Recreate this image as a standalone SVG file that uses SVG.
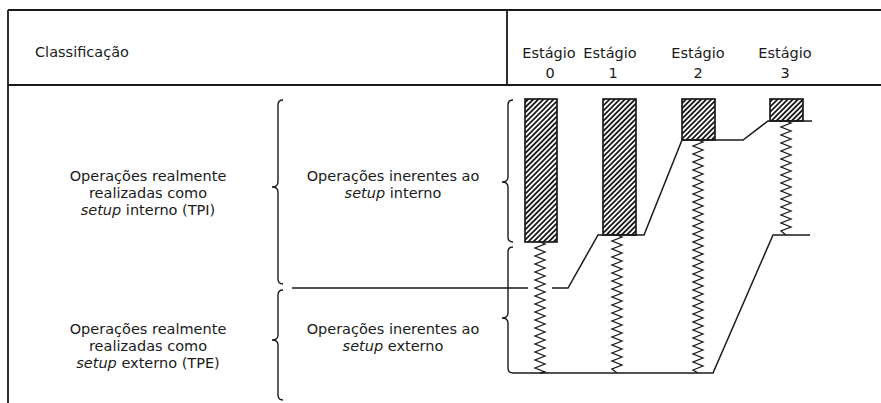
<svg xmlns="http://www.w3.org/2000/svg" width="881" height="403" viewBox="0 0 881 403">
<style>
text{font-family:"DejaVu Sans","Open Sans",sans-serif;font-size:14.5px;fill:#1a1a1a}
.c{text-anchor:middle}
.i{font-style:italic}
.ln{fill:none;stroke:#1a1a1a;stroke-width:1.5}
.fr{fill:none;stroke:#1a1a1a;stroke-width:1.8}
.br{fill:none;stroke:#1a1a1a;stroke-width:1.4}
.zz{fill:none;stroke:#1a1a1a;stroke-width:1.3;stroke-linejoin:miter}
.bar{fill:url(#hatch);stroke:#1a1a1a;stroke-width:1.7}
</style>
<defs>
<pattern id="hatch" patternUnits="userSpaceOnUse" width="3.6" height="3.6" patternTransform="rotate(45)">
<rect width="3.6" height="3.6" fill="#fff"/>
<rect width="1.8" height="3.6" fill="#1a1a1a"/>
</pattern>
</defs>
<rect width="881" height="403" fill="#fff"/>

<g id="frame">
<path class="fr" d="M8,10 H881 M8,10 V403 M8,85 H881 M507,10 V85"/>
</g>

<g id="header">
<text x="35" y="57">Classificação</text>
<text class="c" x="549" y="58">Estágio</text><text class="c" x="550" y="78">0</text>
<text class="c" x="610" y="58">Estágio</text><text class="c" x="613" y="78">1</text>
<text class="c" x="698" y="58">Estágio</text><text class="c" x="698" y="78">2</text>
<text class="c" x="785" y="58">Estágio</text><text class="c" x="785" y="78">3</text>
</g>

<g id="tpi">
<text class="c" x="148" y="181">Operações realmente</text>
<text class="c" x="148" y="198">realizadas como</text>
<text class="c" x="148" y="215"><tspan class="i">setup</tspan> interno (TPI)</text>
</g>
<g id="tpe">
<text class="c" x="148" y="334">Operações realmente</text>
<text class="c" x="148" y="351">realizadas como</text>
<text class="c" x="148" y="368"><tspan class="i">setup</tspan> externo (TPE)</text>
</g>
<g id="inerente-interno">
<text class="c" x="393" y="181">Operações inerentes ao</text>
<text class="c" x="393" y="198"><tspan class="i">setup</tspan> interno</text>
</g>
<g id="inerente-externo">
<text class="c" x="393" y="334">Operações inerentes ao</text>
<text class="c" x="393" y="351"><tspan class="i">setup</tspan> externo</text>
</g>

<g id="braces">
<path class="br" d="M283,100 Q278,100 278,105 L278,182 Q278,187 272,187 Q278,187 278,192 L278,279 Q278,284 283,284"/>
<path class="br" d="M283,290 Q278,290 278,295 L278,335 Q278,340 272,340 Q278,340 278,345 L278,395 Q278,400 283,400"/>
<path class="br" d="M513,100 Q508,100 508,105 L508,177 Q508,182 502,182 Q508,182 508,187 L508,237 Q508,242 513,242"/>
<path class="br" d="M513,247 Q508,247 508,252 L508,313 Q508,318 502,318 Q508,318 508,323 L508,368 Q508,373 513,373"/>
</g>

<g id="stage0">
<rect class="bar" x="525" y="99" width="32" height="143"/>
<path class="zz" d="M540,242 l5,2 -10,4 10,4 -10,4 10,4 -10,4 10,4 -10,4 10,4 -10,4 10,4 -10,4 10,4 -10,4 10,4 -10,4 10,4 -10,4 10,4 -10,4 10,4 -10,4 10,4 -10,4 10,4 -10,4 10,4 -10,4 10,4 -10,4 10,4 -10,4 10,4 l-5,1"/>
</g>
<g id="stage1">
<rect class="bar" x="603" y="99" width="33" height="136"/>
<path class="zz" d="M617,235 l5,2 -10,4 10,4 -10,4 10,4 -10,4 10,4 -10,4 10,4 -10,4 10,4 -10,4 10,4 -10,4 10,4 -10,4 10,4 -10,4 10,4 -10,4 10,4 -10,4 10,4 -10,4 10,4 -10,4 10,4 -10,4 10,4 -10,4 10,4 -10,4 10,4 -10,4 l5,4"/>
</g>
<g id="stage2">
<rect class="bar" x="682" y="99" width="33" height="41"/>
<path class="zz" d="M698,140 l5,2 -10,4 10,4 -10,4 10,4 -10,4 10,4 -10,4 10,4 -10,4 10,4 -10,4 10,4 -10,4 10,4 -10,4 10,4 -10,4 10,4 -10,4 10,4 -10,4 10,4 -10,4 10,4 -10,4 10,4 -10,4 10,4 -10,4 10,4 -10,4 10,4 -10,4 10,4 -10,4 10,4 -10,4 10,4 -10,4 10,4 -10,4 10,4 -10,4 10,4 -10,4 10,4 -10,4 10,4 -10,4 10,4 -10,4 10,4 -10,4 10,4 -10,4 10,4 -10,4 l5,3"/>
</g>
<g id="stage3">
<rect class="bar" x="770" y="99" width="33" height="22"/>
<path class="zz" d="M786,121 l5,2 -10,4 10,4 -10,4 10,4 -10,4 10,4 -10,4 10,4 -10,4 10,4 -10,4 10,4 -10,4 10,4 -10,4 10,4 -10,4 10,4 -10,4 10,4 -10,4 10,4 -10,4 10,4 -10,4 10,4 -10,4 l5,4"/>
</g>

<g id="connectors">
<path class="ln" d="M292,288 H528 M552,288 H568 L598,235 H644 L682,140 H743 L768,121 H812"/>
<path class="ln" d="M513,373 H713 L773,235 H810"/>
</g>
</svg>
